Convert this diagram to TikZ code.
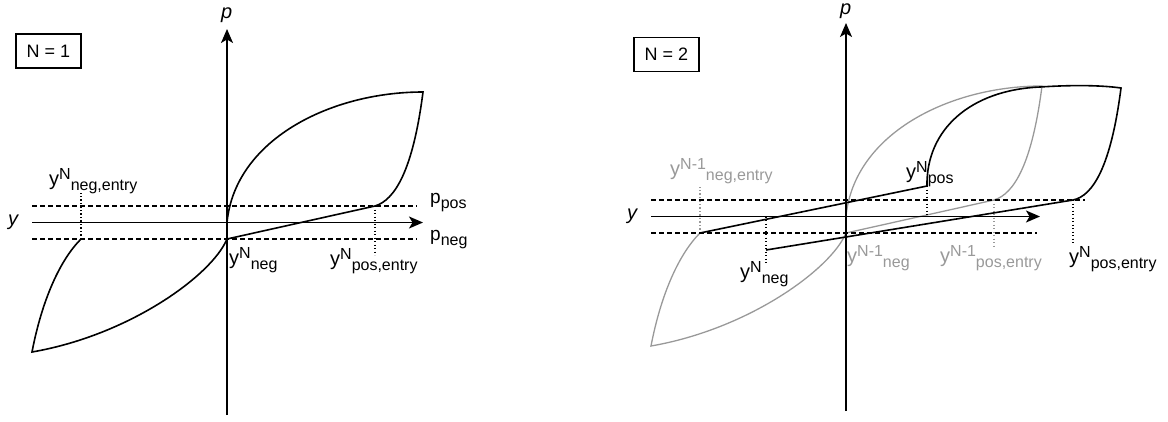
\documentclass[tikz,border=0pt]{standalone}
\usepackage{fontspec}
\setmainfont{Liberation Sans}
\usetikzlibrary{arrows.meta}
\definecolor{gcol}{RGB}{153,153,153}
\newcommand{\fs}[1]{\fontsize{#1}{#1}\selectfont}
\newcommand{\ylab}[2]{{\fs{20}y}\raisebox{6pt}{\fs{16}#1}\raisebox{-5pt}{\fs{16}#2}}
\newcommand{\plab}[1]{{\fs{19}p}\raisebox{-5pt}{\fs{16}#1}}
\begin{document}
\begin{tikzpicture}[x=1pt,y=-1pt,
 ax/.style={line width=1.5pt,-{Stealth[length=14pt,width=12pt,inset=3.5pt]}},
 dsh/.style={line width=1.3pt,dash pattern=on 4.5pt off 3.5pt},
 dotl/.style={line width=1.3pt,dash pattern=on 1.2pt off 2.3pt},
 gdotl/.style={dotl,gcol},
 crv/.style={line width=1.6pt},
 gcrv/.style={line width=1.3pt,gcol},
 lbl/.style={anchor=base west,inner sep=0pt},
 boxn/.style={draw,line width=1.2pt,minimum width=65pt,minimum height=34pt,inner sep=0pt,font=\fs{18}}
]
\useasboundingbox (0,0) rectangle (1168,421);
% ---------- left panel (N = 1) ----------
\coordinate (L-bot) at (227,415);
\coordinate (L-top) at (227,29);
\coordinate (L-xl) at (32,222.5);
\coordinate (L-xr) at (423,222.5);
\coordinate (L-dul) at (32,206);
\coordinate (L-dur) at (417,206);
\coordinate (L-dll) at (32,239);
\coordinate (L-dlr) at (417,239);
\coordinate (L-O) at (227,222.5);
\coordinate (L-Top) at (423,92);
\coordinate (L-Ppe) at (375,206);
\coordinate (L-Pn) at (227,239);
\coordinate (L-Bot) at (32,352);
\coordinate (L-Ne) at (81,239);
\coordinate (L-Ne-d) at (81,193);
\coordinate (L-Ppe-d) at (375,255);
\draw[dsh] (L-dul) -- (L-dur);
\draw[dsh] (L-dll) -- (L-dlr);
\draw[crv] (L-O) .. controls (235,140) and (330,92) .. (L-Top)
  .. controls (413,170) and (395,200) .. (L-Ppe) -- (L-Pn)
  .. controls (212,275) and (130,335) .. (L-Bot)
  .. controls (42,300) and (60,260) .. (L-Ne);
\draw[dotl] (L-Ne) -- (L-Ne-d);
\draw[dotl] (L-Ppe) -- (L-Ppe-d);
\draw[ax] (L-bot) -- (L-top);
\draw[ax] (L-xl) -- (L-xr);
\node[boxn] (n1) at (48.5,51) {N = 1};
\node[lbl] (pL) at (221,18.5) {\fs{20}\itshape p};
\node[lbl] (yL) at (8,225) {\fs{20}\itshape y};
\node[lbl] (l1) at (49,185) {\ylab{N}{neg,entry}};
\node[lbl] (l2) at (229,264) {\ylab{N}{neg}};
\node[lbl] (l3) at (330,265) {\ylab{N}{pos,entry}};
\node[lbl] (ppos) at (430,203) {\plab{pos}};
\node[lbl] (pneg) at (430,240) {\plab{neg}};
% ---------- right panel (N = 2) ----------
\coordinate (R-bot) at (846,411);
\coordinate (R-top) at (846,23);
\coordinate (R-xl) at (651,216.5);
\coordinate (R-xr) at (1040,216.5);
\coordinate (R-dul) at (651,200);
\coordinate (R-dur) at (1085,200);
\coordinate (R-dll) at (651,233);
\coordinate (R-dlr) at (1037,233);
% grey loop (N-1)
\coordinate (G-O) at (846,216.5);
\coordinate (G-Top) at (1042,86);
\coordinate (G-Ppe) at (994,200);
\coordinate (G-Pn) at (846,233);
\coordinate (G-Bot) at (651,346);
\coordinate (G-Ne) at (700,233);
\coordinate (G-Ne-d) at (700,187);
\coordinate (G-Ppe-d) at (994,248);
\draw[gcrv] (G-O) .. controls (854,134) and (949,86) .. (G-Top)
  .. controls (1032,164) and (1014,194) .. (G-Ppe) -- (G-Pn)
  .. controls (831,269) and (749,329) .. (G-Bot)
  .. controls (661,294) and (679,254) .. (G-Ne);
\draw[gdotl] (G-Ne) -- (G-Ne-d);
\draw[gdotl] (G-Ppe) -- (G-Ppe-d);
% black path (N)
\coordinate (B-pos) at (927,186);
\coordinate (B-join) at (1040,87);
\coordinate (B-Top) at (1121,88);
\coordinate (B-Ppe) at (1073,200);
\coordinate (B-Neg) at (766,250);
\coordinate (B-pos-d) at (927,216.5);
\coordinate (B-Ppe-d) at (1073,245);
\coordinate (B-Neg-u) at (766,216.5);
\coordinate (B-Neg-d) at (766,263);
\draw[dsh] (R-dul) -- (R-dur);
\draw[dsh] (R-dll) -- (R-dlr);
\draw[crv] (G-Ne) -- (B-pos)
  .. controls (926,130) and (970,90) .. (B-join)
  .. controls (1070,85) and (1100,85) .. (B-Top)
  .. controls (1111,166) and (1093,196) .. (B-Ppe) -- (B-Neg);
\draw[dotl] (B-pos) -- (B-pos-d);
\draw[dotl] (B-Ppe) -- (B-Ppe-d);
\draw[dotl] (B-Neg-u) -- (B-Neg-d);
\draw[ax] (R-bot) -- (R-top);
\draw[ax] (R-xl) -- (R-xr);
\node[boxn] (n2) at (666.5,54.5) {N = 2};
\node[lbl] (pR) at (840,14) {\fs{20}\itshape p};
\node[lbl] (yR) at (627,219) {\fs{20}\itshape y};
\node[lbl,text=gcol] (r1) at (670,175) {\ylab{N-1}{neg,entry}};
\node[lbl] (r2) at (740,278) {\ylab{N}{neg}};
\node[lbl,text=gcol] (r3) at (847,262) {\ylab{N-1}{neg}};
\node[lbl,text=gcol] (r4) at (940,262) {\ylab{N-1}{pos,entry}};
\node[lbl] (r5) at (1069,263) {\ylab{N}{pos,entry}};
\node[lbl] (r6) at (906,178) {\ylab{N}{pos}};
\end{tikzpicture}
\end{document}
